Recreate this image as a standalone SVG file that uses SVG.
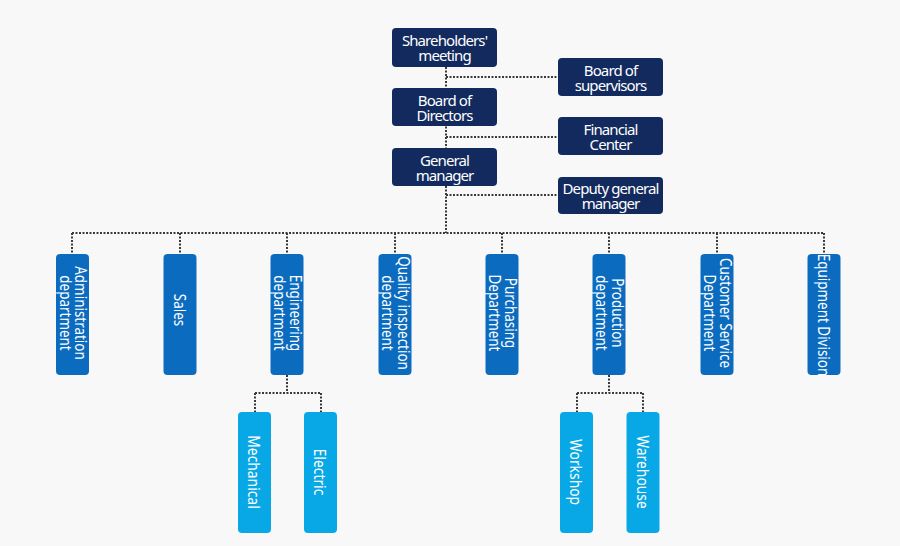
<svg xmlns="http://www.w3.org/2000/svg" width="900" height="546" viewBox="0 0 900 546">
<style>
.top rect{fill:#122a5e;}
.dept rect{fill:#0b6cbf;}
.sub rect{fill:#08a8e6;}
text{fill:#fff;font-family:"Noto Sans","Liberation Sans",sans-serif;text-anchor:middle;}
.top text{font-size:15px;letter-spacing:-0.9px;}
.dept text{font-size:16px;}
.sub text{font-size:16.5px;}
#connectors path{fill:none;stroke:#3a3a3a;stroke-width:2;stroke-dasharray:2 1.5;}
</style>
<rect width="900" height="546" fill="#f8f8f8"/>
<g id="connectors">
<path d="M446 67V233M446 77H558M446 137H558M446 195H558"/>
<path d="M72 233H824M72 233V254M180 233V254M287 233V254M395 233V254M502 233V254M609 233V254M717 233V254M824 233V254"/>
<path d="M287 375V393M255 393H321M255 393V412M321 393V412"/>
<path d="M609 375V393M577 393H643M577 393V412M643 393V412"/>
</g>
<g id="shareholders" class="top"><rect x="392" y="28" width="105" height="39" rx="4"/><text x="444.5" y="45.5">Shareholders'<tspan x="444.5" dy="15">meeting</tspan></text></g>
<g id="board-directors" class="top"><rect x="392" y="88" width="105" height="38" rx="4"/><text x="444.5" y="105.5">Board of<tspan x="444.5" dy="15">Directors</tspan></text></g>
<g id="general-manager" class="top"><rect x="392" y="148" width="105" height="38" rx="4"/><text x="444.5" y="165.5">General<tspan x="444.5" dy="15">manager</tspan></text></g>
<g id="board-supervisors" class="top"><rect x="558" y="58" width="105" height="38" rx="4"/><text x="610.5" y="75.5">Board of<tspan x="610.5" dy="15">supervisors</tspan></text></g>
<g id="financial-center" class="top"><rect x="558" y="117" width="105" height="38" rx="4"/><text x="610.5" y="134.5">Financial<tspan x="610.5" dy="15">Center</tspan></text></g>
<g id="deputy-gm" class="top"><rect x="558" y="177" width="105" height="37" rx="4"/><text x="610.5" y="194">Deputy general<tspan x="610.5" dy="15">manager</tspan></text></g>

<g id="administration" class="dept"><rect x="56" y="254" width="33" height="121" rx="4"/><text transform="translate(72.5,313) rotate(90) scale(0.84,1)" y="-3">Administration<tspan x="0" dy="15.5">department</tspan></text></g>
<g id="sales" class="dept"><rect x="163.5" y="254" width="33" height="121" rx="4"/><text transform="translate(180,310) rotate(90) scale(0.84,1)" y="5.5">Sales</text></g>
<g id="engineering" class="dept"><rect x="270.5" y="254" width="33" height="121" rx="4"/><text transform="translate(287,313) rotate(90) scale(0.84,1)" y="-3">Engineering<tspan x="0" dy="15.5">department</tspan></text></g>
<g id="quality" class="dept"><rect x="378.5" y="254" width="33" height="121" rx="4"/><text transform="translate(395,313) rotate(90) scale(0.84,1)" y="-3">Quality inspection<tspan x="0" dy="15.5">department</tspan></text></g>
<g id="purchasing" class="dept"><rect x="485.5" y="254" width="33" height="121" rx="4"/><text transform="translate(502,313) rotate(90) scale(0.84,1)" y="-3">Purchasing<tspan x="0" dy="15.5">Department</tspan></text></g>
<g id="production" class="dept"><rect x="592.5" y="254" width="33" height="121" rx="4"/><text transform="translate(609,313) rotate(90) scale(0.84,1)" y="-3">Production<tspan x="0" dy="15.5">department</tspan></text></g>
<g id="customer-service" class="dept"><rect x="700.5" y="254" width="33" height="121" rx="4"/><text transform="translate(717,313) rotate(90) scale(0.84,1)" y="-3">Customer Service<tspan x="0" dy="15.5">Department</tspan></text></g>
<g id="equipment" class="dept"><rect x="807.5" y="254" width="33" height="121" rx="4"/><text transform="translate(824,315) rotate(90) scale(0.84,1)" y="5.5">Equipment Division</text></g>

<g id="mechanical" class="sub"><rect x="238" y="412" width="33" height="121" rx="4"/><text transform="translate(254.5,472) rotate(90) scale(0.84,1)" y="6">Mechanical</text></g>
<g id="electric" class="sub"><rect x="304" y="412" width="33" height="121" rx="4"/><text transform="translate(320.5,472) rotate(90) scale(0.84,1)" y="6">Electric</text></g>
<g id="workshop" class="sub"><rect x="560" y="412" width="33" height="121" rx="4"/><text transform="translate(576.5,472) rotate(90) scale(0.84,1)" y="6">Workshop</text></g>
<g id="warehouse" class="sub"><rect x="626.5" y="412" width="33" height="121" rx="4"/><text transform="translate(643,472) rotate(90) scale(0.84,1)" y="6">Warehouse</text></g>
</svg>
